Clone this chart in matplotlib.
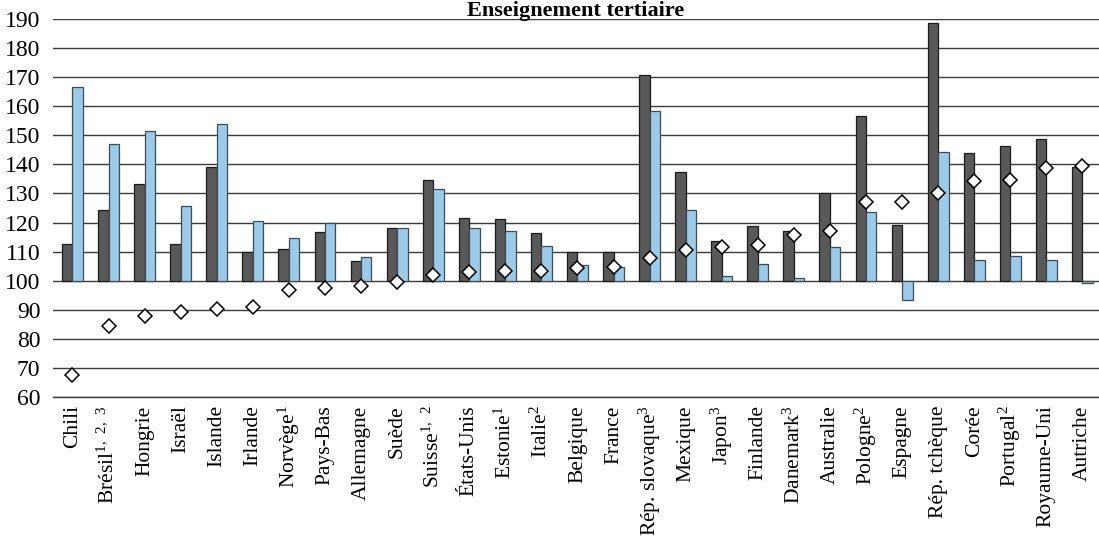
import numpy as np
import matplotlib.pyplot as plt

plt.rcParams['font.family'] = ['Liberation Serif', 'DejaVu Serif']
plt.rcParams['mathtext.fontset'] = 'custom'
plt.rcParams['mathtext.rm'] = 'Liberation Serif'
plt.rcParams['mathtext.default'] = 'regular'

countries = ["Chili", r"Brésil$^{1,\ 2,\ 3}$", "Hongrie", "Israël", "Islande", "Irlande",
             r"Norvège$^{1}$", "Pays-Bas", "Allemagne", "Suède", r"Suisse$^{1,\ 2}$", "États-Unis",
             r"Estonie$^{1}$", r"Italie$^{2}$", "Belgique", "France", r"Rép. slovaque$^{3}$", "Mexique",
             r"Japon$^{3}$", "Finlande", r"Danemark$^{3}$", "Australie", r"Pologne$^{2}$", "Espagne",
             "Rép. tchèque", "Corée", r"Portugal$^{2}$", "Royaume-Uni", "Autriche"]

# dark bars
dark = [112.6, 124.3, 133.1, 112.6, 139.2, 109.9, 110.9, 116.8, 106.8, 118.2,
        134.8, 121.7, 121.1, 116.3, 110.0, 110.0, 170.7, 137.3, 113.7, 118.7,
        117.0, 130.2, 156.8, 119.3, 188.6, 143.8, 146.3, 148.6, 139.2]
# light blue bars
blue = [166.6, 147.0, 151.4, 125.7, 154.0, 120.7, 114.6, 119.7, 108.3, 118.2,
        131.7, 118.2, 117.0, 112.1, 105.4, 104.8, 158.2, 124.3, 101.6, 105.8,
        100.9, 111.5, 123.6, 93.4, 144.3, 107.2, 108.4, 107.2, 99.2]
# diamonds
diamond = [67.4, 84.3, 87.7, 89.2, 90.2, 91.1, 96.7, 97.5, 98.3, 99.6,
           102.1, 102.9, 103.5, 103.5, 104.2, 104.6, 107.7, 110.5, 111.6, 112.2,
           115.8, 117.0, 127.1, 127.1, 130.2, 134.3, 134.8, 138.6, 139.4]

base = 100
x = np.arange(len(countries))
w = 0.29

fig = plt.figure(figsize=(10.99, 5.43), dpi=100)
ax = fig.add_axes([53 / 1099, 1 - 397 / 543, 1 - 53 / 1099, (397 - 19) / 543])

ax.set_axisbelow(True)
ax.yaxis.grid(True, color='#3a3a3a', linewidth=1.0)

d = np.array(dark) - base
b = np.array(blue) - base
ax.bar(x - w / 2, d, w, bottom=base, color='#595959', edgecolor='#1a1a1a', linewidth=0.9, zorder=2)
ax.bar(x + w / 2, b, w, bottom=base, color='#9bcbe8', edgecolor='#3f4a52', linewidth=0.9, zorder=2)
ax.plot(x, diamond, linestyle='none', marker='D', markersize=7.3,
        markerfacecolor='white', markeredgecolor='black', markeredgewidth=1.1, zorder=3)

ax.set_ylim(60, 190)
ax.set_yticks(np.arange(60, 191, 10))
ax.set_xlim(-0.54, 28.46)
ax.set_xticks(x)
ax.set_xticklabels(countries, rotation=90, va='top', ha='center')
ax.tick_params(axis='both', length=0)
ax.tick_params(axis='x', pad=6, labelsize=15.5)
ax.tick_params(axis='y', pad=9, labelsize=17)

for s in ['left', 'right', 'top']:
    ax.spines[s].set_visible(False)
ax.spines['bottom'].set_color('#3a3a3a')
ax.spines['bottom'].set_linewidth(1.0)

fig.text(576 / 1099, 1 - 1 / 543, "Enseignement tertiaire", ha='center', va='top',
         fontsize=16, fontweight='bold')

fig.savefig("out.png", dpi=100)
